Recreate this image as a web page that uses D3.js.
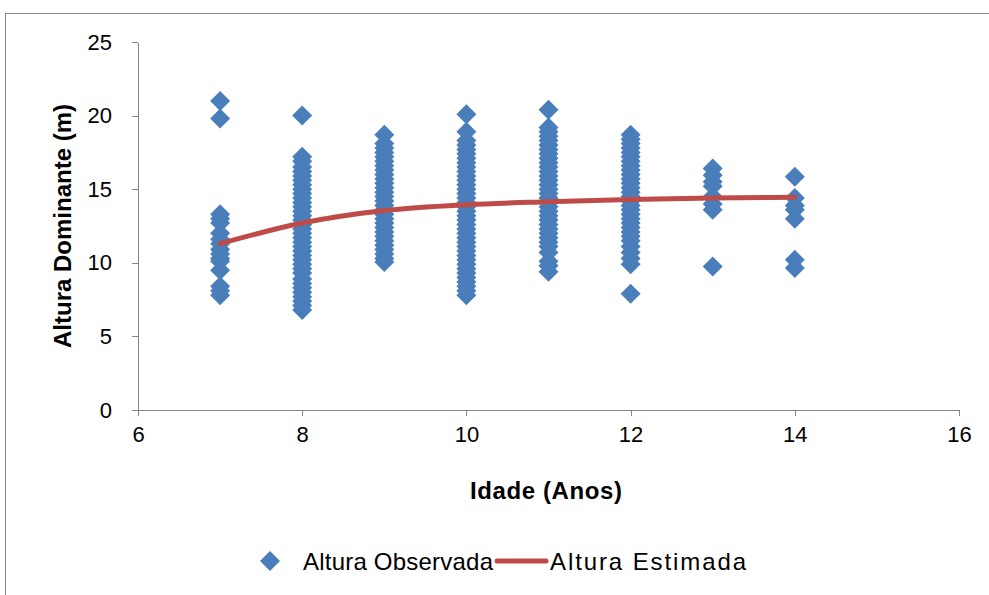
<!DOCTYPE html>
<meta charset="utf-8">
<style>
body { margin: 0; background: #fff; }
text { font-family: "Liberation Sans", Arial, sans-serif; fill: #000; }
.axis path, .axis line { stroke: #868686; shape-rendering: crispEdges; }
.axis text { font-size: 22px; }
.title { font-size: 24px; font-weight: bold; }
.legend text { font-size: 24px; }
</style>
<body>
<script src="https://cdn.jsdelivr.net/npm/d3@7/dist/d3.min.js"></script>
<script>

var ages = [7, 8, 9, 10, 11, 12, 13, 14];

var obs7  = [21.0, 19.8, 13.3, 13.0, 12.7, 12.0, 11.6, 11.3, 10.9, 10.6, 10.3, 10.1, 9.5, 8.4, 8.1, 7.8];
var obs8  = [20.0, 17.2, 16.9, 16.5, 16.2, 15.9, 15.6, 15.3, 15.0, 14.7, 14.4, 14.1, 13.8, 13.5,
             13.2, 12.9, 12.6, 12.3, 12.0, 11.7, 11.4, 11.1, 10.8, 10.5, 10.2, 9.9, 9.6, 9.3, 8.9,
             8.6, 8.3, 8.0, 7.7, 7.4, 7.1, 6.8];
var obs9  = [18.7, 18.1, 17.8, 17.5, 17.2, 16.9, 16.6, 16.3, 16.0, 15.7, 15.4, 15.1, 14.8, 14.5,
             14.2, 13.9, 13.6, 13.3, 13.0, 12.7, 12.4, 12.1, 11.8, 11.5, 11.2, 10.9, 10.6, 10.3, 10.05];
var obs10 = [20.1, 18.9, 18.3, 18.0, 17.7, 17.4, 17.1, 16.8, 16.5, 16.2, 15.9, 15.6, 15.3, 15.0,
             14.7, 14.4, 14.1, 13.8, 13.5, 13.2, 12.9, 12.6, 12.3, 12.0, 11.7, 11.4, 11.1, 10.8,
             10.5, 10.2, 9.9, 9.6, 9.3, 9.0, 8.7, 8.4, 8.1, 7.8];
var obs11 = [20.4, 19.2, 18.9, 18.6, 18.3, 18.0, 17.7, 17.4, 17.1, 16.8, 16.5, 16.2, 15.9, 15.6,
             15.3, 15.0, 14.7, 14.4, 14.1, 13.8, 13.5, 13.2, 12.9, 12.6, 12.3, 12.0, 11.7, 11.4,
             11.1, 10.7, 10.1, 9.8, 9.4];
var obs12 = [18.7, 18.4, 18.1, 17.8, 17.5, 17.2, 16.9, 16.6, 16.3, 16.0, 15.7, 15.4, 15.1, 14.8,
             14.5, 14.2, 13.9, 13.6, 13.3, 13.0, 12.7, 12.4, 12.1, 11.8, 11.5, 11.1, 10.7, 10.3,
             9.9, 7.9];
var obs13 = [16.4, 15.95, 15.5, 15.2, 14.5, 14.0, 13.6, 9.75];
var obs14 = [15.85, 14.4, 13.9, 13.6, 13.0, 10.2, 9.65];

// fitted curve
var estimated = [11.3, 12.7, 13.55, 13.95, 14.15, 14.3, 14.4, 14.45];

var xTicks = [6, 8, 10, 12, 14, 16];
var yTicks = [0, 5, 10, 15, 20, 25];

var width = 989, height = 595;

var svg = d3.select("body").append("svg")
    .attr("width", width)
    .attr("height", height);

// chart border
svg.append("rect")
    .attr("x", 5.5).attr("y", 13.5)
    .attr("width", 1000).attr("height", 600)
    .attr("fill", "#fff")
    .attr("stroke", "#868686");

var x = d3.scaleLinear().domain([6, 16]).range([138, 959]);
var y = d3.scaleLinear().domain([0, 25]).range([410, 42]);

svg.append("g")
    .attr("class", "axis")
    .attr("transform", "translate(0," + y(0) + ")")
    .call(d3.axisBottom(x).tickValues(xTicks).tickSize(6).tickSizeOuter(0).tickPadding(10));

svg.append("g")
    .attr("class", "axis")
    .attr("transform", "translate(" + x(6) + ",0)")
    .call(d3.axisLeft(y).tickValues(yTicks).tickSize(6).tickSizeOuter(0).tickPadding(20));

svg.selectAll(".axis .domain").attr("stroke", "#868686");

var points = [];
[obs7, obs8, obs9, obs10, obs11, obs12, obs13, obs14].forEach(function(col, i) {
  col.forEach(function(v) { points.push({age: ages[i], h: v}); });
});

var diamond = d3.symbol().type(d3.symbolSquare).size(200);

svg.append("g").selectAll("path")
    .data(points)
  .enter().append("path")
    .attr("d", diamond)
    .attr("transform", function(d) { return "translate(" + x(d.age) + "," + y(d.h) + ") rotate(45)"; })
    .attr("fill", "#4a7ebb");

var line = d3.line()
    .x(function(d, i) { return x(ages[i]); })
    .y(function(d) { return y(d); })
    .curve(d3.curveMonotoneX);

svg.append("path")
    .datum(estimated)
    .attr("d", line)
    .attr("fill", "none")
    .attr("stroke", "#be4b48")
    .attr("stroke-width", 5)
    .attr("stroke-linecap", "round");

svg.append("text")
    .attr("class", "title")
    .attr("x", 546).attr("y", 499)
    .attr("text-anchor", "middle")
    .attr("textLength", 152)
    .text("Idade (Anos)");

svg.append("text")
    .attr("class", "title")
    .attr("transform", "translate(71,226) rotate(-90)")
    .attr("text-anchor", "middle")
    .text("Altura Dominante (m)");

// legend
var legend = svg.append("g").attr("class", "legend");
legend.append("path")
    .attr("d", diamond)
    .attr("transform", "translate(270,561) rotate(45)")
    .attr("fill", "#4a7ebb");
legend.append("text").attr("x", 303).attr("y", 570)
    .attr("textLength", 190)
    .text("Altura Observada");
legend.append("line")
    .attr("x1", 497).attr("x2", 546).attr("y1", 561).attr("y2", 561)
    .attr("stroke", "#be4b48").attr("stroke-width", 5).attr("stroke-linecap", "round");
legend.append("text").attr("x", 550).attr("y", 570)
    .attr("textLength", 196)
    .text("Altura Estimada");

</script>
</body>
